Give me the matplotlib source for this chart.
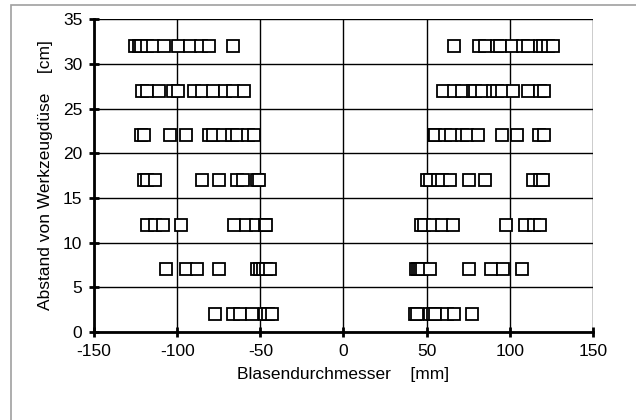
import matplotlib.pyplot as plt
from matplotlib.patches import Rectangle

plt.rcParams['font.family'] = ['Liberation Sans', 'DejaVu Sans']
plt.rcParams['axes.unicode_minus'] = False

# distance from nozzle [cm] for each measuring row
rows = [2, 7, 12, 17, 22, 27, 32]

# bubble diameters [mm] per row, left side (negative) and right side
left = {
    2: [-77.5, -66.7, -62.0, -54.8, -47.4, -45.2, -43.0],
    7: [-106.6, -94.6, -88.2, -75.1, -52.2, -50.4, -48.4, -46.4, -44.0],
    12: [-117.9, -113.1, -108.6, -97.6, -66.1, -58.8, -52.8, -47.4, -46.4],
    17: [-119.9, -117.9, -113.1, -85.1, -75.1, -64.1, -60.6, -52.2, -50.8],
    22: [-122.0, -120.0, -104.6, -95.0, -81.1, -78.3, -72.3, -67.3, -64.3,
         -57.4, -53.6],
    27: [-121.0, -118.1, -111.0, -102.6, -99.6, -90.2, -85.3, -78.3, -71.1,
         -66.5, -59.8],
    32: [-125.3, -123.3, -121.9, -117.9, -114.5, -107.8, -99.8, -92.6, -85.5,
         -81.1, -66.5],
}
right = {
    2: [42.8, 44.2, 52.2, 53.6, 55.2, 62.2, 66.5, 77.3],
    7: [43.6, 44.8, 46.2, 47.5, 52.0, 75.3, 89.0, 95.8, 107.4],
    12: [46.8, 48.2, 53.6, 59.2, 65.9, 97.8, 109.4, 114.5, 118.0],
    17: [50.2, 52.2, 57.0, 59.5, 64.1, 75.3, 85.1, 113.9, 118.5, 119.9],
    22: [54.2, 55.2, 61.0, 65.0, 71.1, 74.1, 81.1, 95.4, 104.2, 117.5, 120.7],
    27: [60.2, 66.3, 71.1, 78.1, 79.1, 83.1, 90.2, 92.2, 95.2, 102.2, 111.2,
         118.3, 120.7],
    32: [66.3, 81.3, 85.1, 92.2, 94.0, 101.2, 108.2, 111.2, 118.3, 120.3,
         123.3, 125.9],
}

fig = plt.figure(figsize=(6.36, 4.2), dpi=100)
fig.patches.append(Rectangle((11 / 636, -0.1), 1.2, 1.1 - 5 / 420,
                             transform=fig.transFigure, fill=False,
                             edgecolor='#a0a0a0', linewidth=1.2))
ax = fig.add_axes([0.148, 0.21, 0.784, 0.744])

for y in rows:
    xs = left[y] + right[y]
    ax.plot(xs, [y] * len(xs), linestyle='none', marker='s', markersize=8.5,
            markerfacecolor='white', markeredgecolor='black',
            markeredgewidth=1.3, zorder=3)

ax.set_xlim(-150, 150)
ax.set_ylim(0, 35)
ax.set_xticks(range(-150, 151, 50))
ax.set_yticks(range(0, 36, 5))
ax.grid(True, color='black', linewidth=1.0)
ax.set_axisbelow(True)
for side in ['top', 'right']:
    ax.spines[side].set_visible(False)
for side in ['left', 'bottom']:
    ax.spines[side].set_linewidth(2)
ax.tick_params(direction='inout', length=7, width=2, labelsize=12.5, pad=5)

ax.set_xlabel('Blasendurchmesser    [mm]', fontsize=12.5, labelpad=6)
ax.set_ylabel('Abstand von Werkzeugdüse    [cm]', fontsize=12.5, labelpad=7)

plt.savefig('out.png', dpi=100)
